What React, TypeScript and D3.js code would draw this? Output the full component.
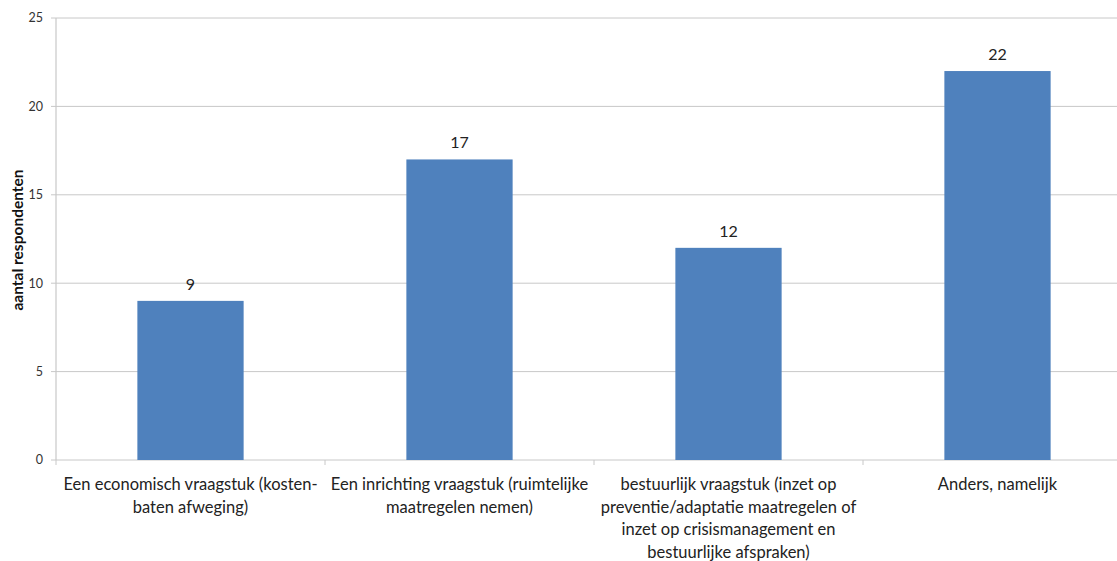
import React from "react";
import * as d3 from "d3";

const categories = [
  ["Een economisch vraagstuk (kosten-", "baten afweging)"],
  ["Een inrichting vraagstuk (ruimtelijke", "maatregelen nemen)"],
  ["bestuurlijk vraagstuk (inzet op", "preventie/adaptatie maatregelen of", "inzet op crisismanagement en", "bestuurlijke afspraken)"],
  ["Anders, namelijk"],
];
const values = [9, 17, 12, 22];
const yTicks = [0, 5, 10, 15, 20, 25];
const yLabel = "aantal respondenten";

const W = 1117;
const H = 561;
const FONT = "Lato, 'Open Sans', sans-serif";

export default function App() {
  const x0 = 56;
  const band = 269;
  const x = d3
    .scaleBand<number>()
    .domain(values.map((_, i) => i))
    .range([x0, x0 + band * values.length])
    .paddingInner(0.605)
    .paddingOuter(0.3025);
  const y = d3.scaleLinear().domain([0, 25]).range([460, 18]);
  const gridRight = x0 + band * values.length;

  return (
    <div style={{ position: "fixed", left: 0, top: 0, width: W, height: H, background: "#fff" }}>
      <svg width={W} height={H} style={{ display: "block" }} fontFamily={FONT}>
        {yTicks.map((t) => (
          <g key={t}>
            <line x1={x0 - 5} x2={gridRight} y1={y(t)} y2={y(t)} stroke="#c8c8c8" strokeWidth={1} />
            <text x={x0 - 13} y={y(t)} dy="0.35em" textAnchor="end" fontSize={12.5} fill="#333">
              {t}
            </text>
          </g>
        ))}
        <line x1={x0} x2={x0} y1={y(25)} y2={y(0)} stroke="#c8c8c8" strokeWidth={1.2} />
        {d3.range(values.length + 1).map((i) => (
          <line key={i} x1={x0 + band * i} x2={x0 + band * i} y1={y(0)} y2={y(0) + 5} stroke="#c8c8c8" />
        ))}
        {values.map((v, i) => (
          <g key={i}>
            <rect x={x(i)!} y={y(v)} width={x.bandwidth()} height={y(0) - y(v)} fill="#4f81bd" />
            <text x={x(i)! + x.bandwidth() / 2} y={y(v) - 11} textAnchor="middle" fontSize={16} fill="#222">
              {v}
            </text>
          </g>
        ))}
        {categories.map((lines, i) => (
          <text key={i} textAnchor="middle" fontSize={16.5} fill="#222">
            {lines.map((l, j) => (
              <tspan key={j} x={x0 + band * i + band / 2} y={490 + j * 22.5}>
                {l}
              </tspan>
            ))}
          </text>
        ))}
        <text
          transform={`translate(23, 240) rotate(-90)`}
          textAnchor="middle"
          fontSize={15.5}
          fontWeight="bold"
          fill="#111"
        >
          {yLabel}
        </text>
      </svg>
    </div>
  );
}
